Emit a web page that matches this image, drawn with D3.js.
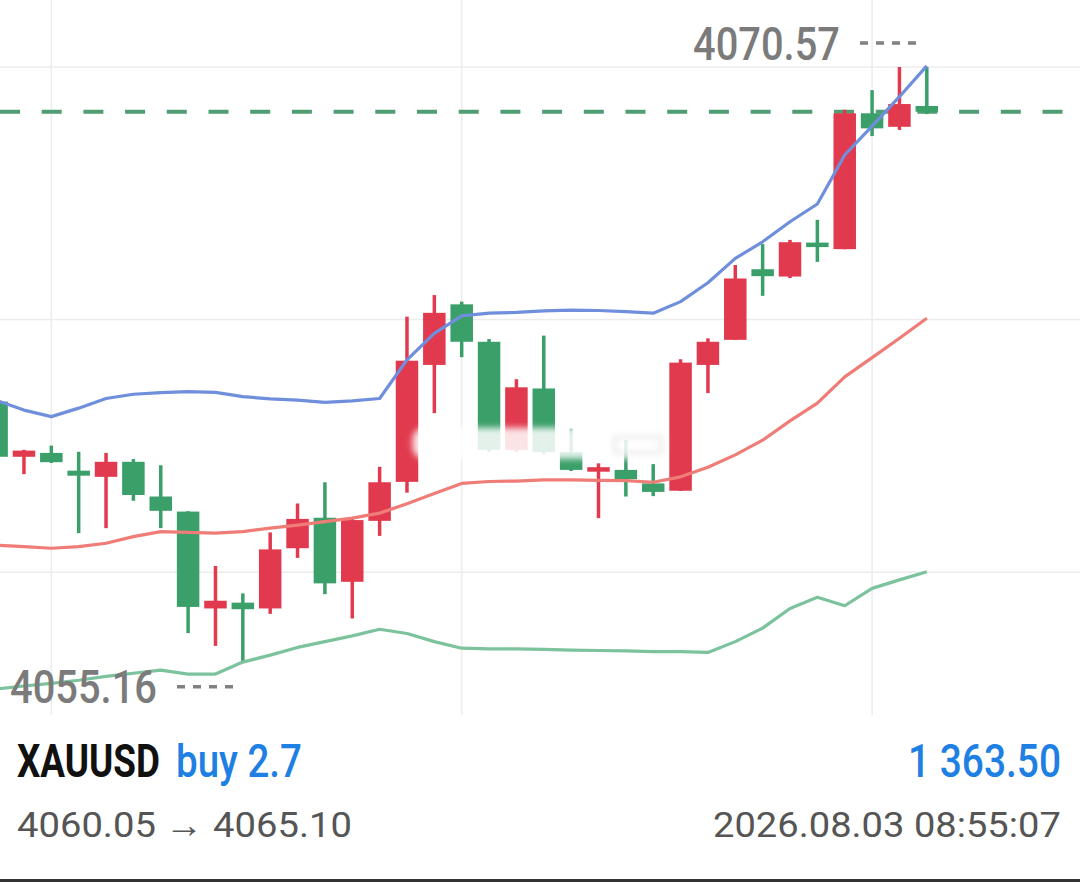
<!DOCTYPE html>
<html lang="en">
<head>
  <meta charset="UTF-8">
  <title>XAUUSD candles</title>
  <script src="https://d3js.org/d3.v7.min.js"></script>
  <style>
    html, body { margin: 0; padding: 0; background: #fff; }
    svg { display: block; font-family: Roboto, "Liberation Sans", sans-serif; }
  </style>
</head>
<body>
  <svg id="chart"></svg>

  <script>
    // OHLC per bar (red = rising, green = falling)
    const opens  = [4061.90, 4060.47, 4060.57, 4060.11, 4059.95, 4060.34, 4059.44, 4059.05, 4056.54, 4056.69,
                    4056.54, 4058.10, 4058.89, 4057.23, 4058.81, 4059.82, 4062.85, 4064.42, 4063.45, 4060.65,
                    4062.24, 4060.59, 4060.15, 4060.13, 4059.78, 4059.59, 4062.85, 4063.50, 4065.33, 4065.14,
                    4066.02, 4065.85, 4069.37, 4069.02, 4069.56];
    const highs  = [4061.99, 4060.65, 4060.76, 4060.60, 4060.57, 4060.41, 4060.25, 4059.06, 4057.64, 4056.93,
                    4058.51, 4059.26, 4059.81, 4058.86, 4060.21, 4064.10, 4064.66, 4064.49, 4063.52, 4062.48,
                    4063.61, 4061.20, 4060.30, 4060.90, 4060.28, 4063.00, 4063.54, 4065.44, 4065.98, 4066.09,
                    4066.61, 4069.46, 4069.97, 4070.57, 4070.57];
    const lows   = [4060.44, 4060.02, 4060.31, 4058.49, 4058.62, 4059.33, 4058.62, 4055.90, 4055.57, 4055.16,
                    4056.40, 4057.85, 4056.91, 4056.28, 4058.42, 4059.54, 4061.60, 4063.05, 4060.60, 4060.60,
                    4060.55, 4060.10, 4058.88, 4059.44, 4059.45, 4059.58, 4062.12, 4063.50, 4064.64, 4065.10,
                    4065.52, 4065.85, 4068.78, 4068.94, 4069.35];
    const closes = [4060.47, 4060.63, 4060.33, 4059.98, 4060.34, 4059.48, 4059.07, 4056.58, 4056.74, 4056.52,
                    4058.07, 4058.86, 4057.19, 4058.83, 4059.81, 4062.96, 4064.20, 4063.45, 4060.65, 4062.27,
                    4060.59, 4060.13, 4060.20, 4059.89, 4059.56, 4062.91, 4063.45, 4065.09, 4065.15, 4066.03,
                    4065.91, 4069.37, 4068.98, 4069.61, 4069.41];

    // Bollinger bands
    const upperBand = [4061.93, 4061.68, 4061.51, 4061.73, 4061.98, 4062.09, 4062.13, 4062.16, 4062.14, 4062.03,
                       4061.97, 4061.94, 4061.88, 4061.92, 4061.98, 4062.98, 4063.67, 4064.12, 4064.19, 4064.21,
                       4064.25, 4064.27, 4064.26, 4064.23, 4064.19, 4064.49, 4064.98, 4065.61, 4066.04, 4066.56,
                       4067.02, 4068.29, 4069.04, 4069.80, 4070.60];
    const midBand   = [4058.18, 4058.14, 4058.10, 4058.14, 4058.23, 4058.40, 4058.53, 4058.51, 4058.49, 4058.53,
                       4058.62, 4058.70, 4058.79, 4058.88, 4059.01, 4059.25, 4059.52, 4059.78, 4059.83, 4059.84,
                       4059.87, 4059.87, 4059.86, 4059.85, 4059.81, 4059.95, 4060.20, 4060.52, 4060.90, 4061.40,
                       4061.86, 4062.54, 4063.04, 4063.54, 4064.06];
    const lowerBand = [4054.45, 4054.53, 4054.60, 4054.68, 4054.78, 4054.86, 4054.94, 4054.84, 4054.84, 4055.15,
                       4055.33, 4055.53, 4055.68, 4055.83, 4056.00, 4055.89, 4055.68, 4055.51, 4055.49, 4055.49,
                       4055.48, 4055.46, 4055.45, 4055.44, 4055.42, 4055.42, 4055.40, 4055.68, 4056.03, 4056.54,
                       4056.83, 4056.61, 4057.06, 4057.28, 4057.49];

    const currentPrice = 4069.41;
    const gridPrices = [4070.57, 4064.03, 4057.48];
    const gridBars = [2, 17, 32];

    const symbol = "XAUUSD";
    const side = "buy 2.7";
    const profit = "1 363.50";
    const priceMove = "4060.05 \u2192 4065.10";
    const stamp = "2026.08.03 08:55:07";

    const W = 1080, H = 882, plotBottom = 715;
    const red = "#e13a4e", green = "#3a9f69";

    const svg = d3.select("#chart").attr("width", W).attr("height", H);
    svg.append("rect").attr("width", W).attr("height", H).attr("fill", "#fff");

    const defs = svg.append("defs");
    defs.append("clipPath").attr("id", "plot")
      .append("rect").attr("width", W).attr("height", plotBottom);
    defs.append("filter").attr("id", "blur")
      .attr("x", "-10%").attr("y", "-50%").attr("width", "120%").attr("height", "200%")
      .append("feGaussianBlur").attr("stdDeviation", 3);

    const hi = d3.max(highs), lo = d3.min(lows);

    const x = d3.scaleLinear().domain([0, closes.length - 1]).range([-3.4, 926.8]);
    const y = d3.scaleLinear().domain([lo, hi]).range([661.7, 67]);

    const plot = svg.append("g").attr("clip-path", "url(#plot)");

    // squeeze a text horizontally so it spans `len` pixels (the app uses a condensed face)
    function fitText(parent, str, xs, ys, len, size, weight, col) {
      const t = parent.append("text")
        .attr("font-size", size).attr("font-weight", weight).attr("fill", col)
        .text(str);
      const natural = t.node().getComputedTextLength();
      t.attr("transform", `translate(${xs},${ys}) scale(${len / natural},1)`);
      return t;
    }

    // grid
    plot.append("g").selectAll("line").data(gridPrices).join("line")
      .attr("x1", 0).attr("x2", W)
      .attr("y1", d => y(d)).attr("y2", d => y(d))
      .attr("stroke", "#ececec").attr("stroke-width", 1.5);
    plot.append("g").selectAll("line").data(gridBars).join("line")
      .attr("x1", d => x(d)).attr("x2", d => x(d))
      .attr("y1", 0).attr("y2", plotBottom)
      .attr("stroke", "#ececec").attr("stroke-width", 1.5);

    // current price line
    plot.append("line")
      .attr("x1", 0).attr("x2", 1063)
      .attr("y1", y(currentPrice)).attr("y2", y(currentPrice))
      .attr("stroke", "#4f9e73").attr("stroke-width", 4)
      .attr("stroke-dasharray", "20,21.7");

    // candles
    const bars = d3.range(closes.length).map(i => ({
      i, o: opens[i], h: highs[i], l: lows[i], c: closes[i]
    }));
    const bodyW = 22.5;
    const candle = plot.append("g").selectAll("g").data(bars).join("g")
      .attr("fill", d => d.c >= d.o ? red : green)
      .attr("stroke", d => d.c >= d.o ? red : green);
    candle.append("line")
      .attr("x1", d => x(d.i)).attr("x2", d => x(d.i))
      .attr("y1", d => y(d.h)).attr("y2", d => y(d.l))
      .attr("stroke-width", 3.5);
    candle.append("rect")
      .attr("stroke", "none")
      .attr("x", d => x(d.i) - bodyW / 2).attr("width", bodyW)
      .attr("y", d => y(Math.max(d.o, d.c)))
      .attr("height", d => Math.max(4.5, Math.abs(y(d.o) - y(d.c))));

    // bands
    const line = d3.line().x((d, i) => x(i)).y(d => y(d));
    [[upperBand, "#6f8fdc"], [midBand, "#f07c78"], [lowerBand, "#7cc39d"]].forEach(([band, col]) => {
      plot.append("path").datum(band)
        .attr("d", line).attr("fill", "none")
        .attr("stroke", col).attr("stroke-width", 3.2)
        .attr("stroke-linejoin", "round");
    });

    // blurred watermark strip over the middle
    const strip = plot.append("g").attr("filter", "url(#blur)");
    strip.append("rect")
      .attr("x", x(15.2)).attr("width", x(24.4) - x(15.2))
      .attr("y", y(4061.22)).attr("height", y(4060.42) - y(4061.22))
      .attr("rx", 12)
      .attr("fill", "#fff").attr("opacity", 0.86);
    strip.append("rect")
      .attr("x", x(22.6)).attr("width", x(24.3) - x(22.6))
      .attr("y", y(4060.98)).attr("height", y(4060.58) - y(4060.98))
      .attr("fill", "none").attr("stroke", "#d8d8d8").attr("stroke-width", 2);

    // high / low labels
    function extremeLabel(val, tx, ty, dx1, dx2, dy) {
      fitText(plot, val.toFixed(2), tx, ty, 147, 46, 500, "#7b7b7b");
      plot.append("line")
        .attr("x1", dx1).attr("x2", dx2).attr("y1", dy).attr("y2", dy)
        .attr("stroke", "#808080").attr("stroke-width", 3.5)
        .attr("stroke-dasharray", "8,8");
    }
    extremeLabel(hi, 693, y(hi) - 7, 860, 920, y(hi) - 24);
    extremeLabel(lo, 10, y(lo) + 41, 177, 237, y(lo) + 25);

    // footer
    fitText(svg, symbol, 17, 777, 143, 46, 700, "#111");
    fitText(svg, side, 176, 777, 126, 46, 500, "#1f80e4");
    fitText(svg, profit, 1061 - 153, 777, 153, 46, 500, "#1f80e4");
    fitText(svg, priceMove, 17, 837, 335, 36, 400, "#555");
    fitText(svg, stamp, 1061 - 348, 837, 348, 36, 400, "#555");

    svg.append("rect").attr("x", 0).attr("y", 879).attr("width", W).attr("height", 3).attr("fill", "#333");
  </script>
</body>
</html>
